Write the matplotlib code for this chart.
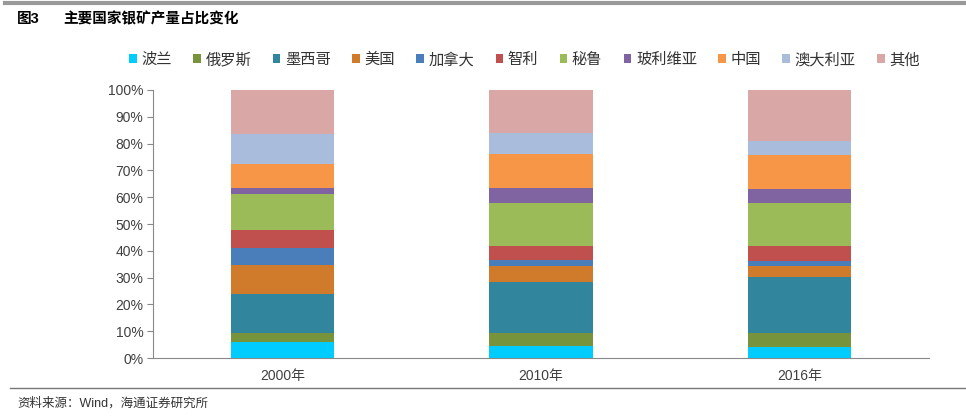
import numpy as np
import matplotlib.pyplot as plt
from matplotlib.patches import Patch
from matplotlib.lines import Line2D

plt.rcParams['font.family'] = ['Liberation Sans', 'Noto Sans CJK SC', 'DejaVu Sans']

years = ["2000年", "2010年", "2016年"]
countries = ["波兰", "俄罗斯", "墨西哥", "美国", "加拿大", "智利", "秘鲁",
             "玻利维亚", "中国", "澳大利亚", "其他"]

# share in %, one list per country: 2000, 2010, 2016
poland    = [6.0, 4.5, 4.1]
russia    = [3.5, 5.0, 5.4]
mexico    = [14.3, 18.9, 20.8]
usa       = [10.8, 5.9, 4.2]
canada    = [6.5, 2.2, 1.6]
chile     = [6.6, 5.3, 5.6]
peru      = [13.5, 16.2, 16.3]
bolivia   = [2.3, 5.5, 5.0]
china     = [8.9, 12.5, 12.7]
australia = [11.1, 7.8, 5.2]
others    = [16.5, 16.2, 19.1]

colors = ["#00CCFF", "#77933C", "#31859C", "#D07A2C", "#4A7EBB", "#C0504D",
          "#9BBB59", "#8064A2", "#F79646", "#A9BCDC", "#D9A7A6"]

series = [poland, russia, mexico, usa, canada, chile, peru, bolivia, china, australia, others]

fig = plt.figure(figsize=(9.66, 4.18), dpi=100)
ax = fig.add_axes([0.1584, 0.1435, 0.8033, 0.6412])

x = np.arange(len(years))
bottom = np.zeros(len(years))
for vals, c in zip(series, colors):
    v = np.array(vals) / 100
    ax.bar(x, v, width=0.4, bottom=bottom, color=c, linewidth=0)
    bottom += v

ax.set_xlim(-0.5, 2.5)
ax.set_ylim(0, 1)
ax.set_yticks(np.arange(0, 1.01, 0.1))
ax.set_yticklabels([f"{int(round(t*100))}%" for t in np.arange(0, 1.01, 0.1)])
ax.set_xticks(x)
ax.set_xticklabels(years)
ax.tick_params(axis='y', length=4, color="#888888", labelsize=10, labelcolor="#404040", pad=3)
ax.tick_params(axis='x', length=0, labelsize=10, labelcolor="#404040", pad=8)
for s in ["top", "right"]:
    ax.spines[s].set_visible(False)
ax.spines["left"].set_color("#888888")
ax.spines["bottom"].set_color("#888888")

handles = [Patch(facecolor=c, edgecolor='none') for c in colors]
fig.legend(handles, countries, loc='center', bbox_to_anchor=(0.543, 0.857), ncol=11,
           frameon=False, handlelength=0.5, handleheight=0.5, handletextpad=0.3,
           columnspacing=1.4, prop={'family': ['Noto Sans CJK SC'], 'size': 11},
           labelcolor="#333333")

# title and rules
fig.add_artist(Line2D([0.005, 1.0], [0.993, 0.993], color="#999999", linewidth=3))
fig.text(0.018, 0.955, "图3", fontsize=10.5, fontweight='bold', va='center',
         family=['Liberation Sans', 'Noto Sans CJK SC'])
fig.text(0.065, 0.955, "主要国家银矿产量占比变化", fontsize=10.5, fontweight='bold',
         va='center', family=['Noto Sans CJK SC'])
fig.add_artist(Line2D([0.01, 1.0], [0.072, 0.072], color="#777777", linewidth=1))
fig.text(0.018, 0.035, "资料来源：Wind，海通证券研究所", fontsize=9, va='center',
         color="#333333", family=['Liberation Sans', 'Noto Sans CJK SC'])

fig.savefig("out.png", dpi=100)
